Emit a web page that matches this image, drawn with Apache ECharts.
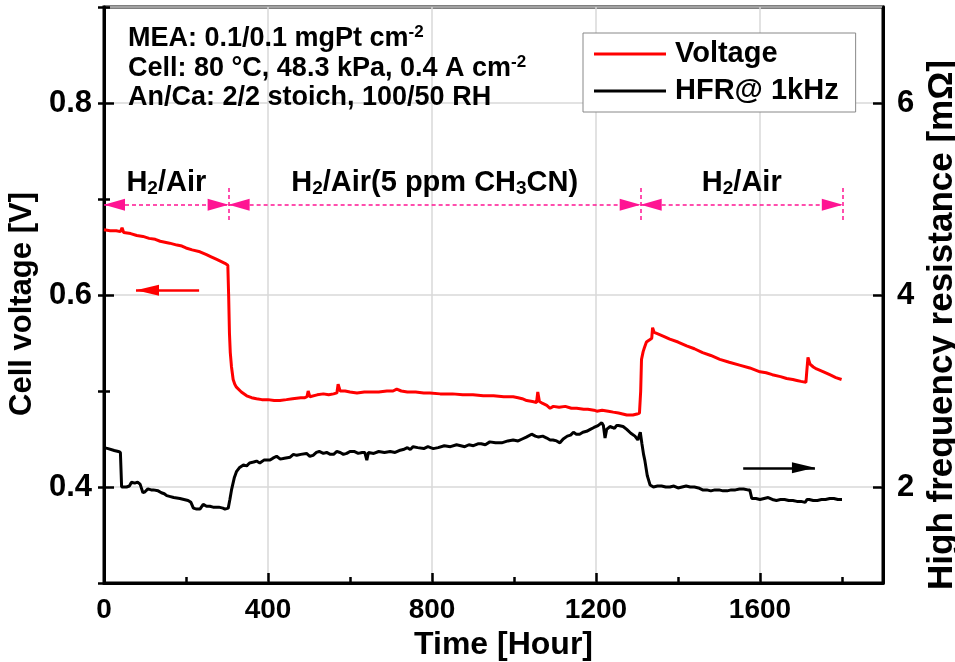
<!DOCTYPE html>
<html>
<head>
<meta charset="utf-8">
<script src="https://cdn.jsdelivr.net/npm/echarts@6/dist/echarts.min.js"></script>
<style>
  html, body { margin: 0; padding: 0; background: #fff; }
  #chart { width: 955px; height: 662px; }
</style>
</head>
<body>
<div id="chart"></div>
<script>
// Cell voltage [V] against time [h]
const voltageData = [
  [0, 0.668], [15, 0.667], [30, 0.667], [40, 0.666], [44, 0.670], [48, 0.665], [65, 0.664],
  [80, 0.662], [95, 0.661], [110, 0.659], [125, 0.658], [137, 0.656], [140, 0.657], [160, 0.654],
  [178, 0.652], [190, 0.651], [200, 0.649], [215, 0.647], [234, 0.645], [250, 0.642], [260, 0.640],
  [275, 0.637], [285, 0.635], [295, 0.633], [302, 0.631], [304, 0.600], [306, 0.560], [308, 0.540],
  [311, 0.525], [315, 0.512], [319, 0.507], [323, 0.504], [335, 0.499], [348, 0.495], [360, 0.493],
  [372, 0.492], [385, 0.491], [400, 0.491], [415, 0.490], [429, 0.490], [445, 0.491], [460, 0.492],
  [480, 0.493], [490, 0.493], [495, 0.494], [498, 0.500], [502, 0.494], [520, 0.496], [535, 0.497],
  [548, 0.496], [560, 0.497], [568, 0.498], [571, 0.507], [576, 0.500], [588, 0.500], [600, 0.499],
  [617, 0.498], [635, 0.499], [650, 0.499], [670, 0.499], [690, 0.500], [705, 0.500], [714, 0.502],
  [725, 0.500], [740, 0.499], [760, 0.499], [780, 0.498], [795, 0.498], [820, 0.497], [850, 0.497],
  [875, 0.496], [900, 0.496], [925, 0.495], [950, 0.495], [975, 0.494], [998, 0.494], [1010, 0.493],
  [1020, 0.492], [1031, 0.490], [1045, 0.489], [1055, 0.488], [1058, 0.499], [1062, 0.489],
  [1070, 0.487], [1080, 0.485], [1088, 0.482], [1096, 0.484], [1110, 0.483], [1125, 0.484],
  [1140, 0.482], [1153, 0.482], [1170, 0.481], [1180, 0.481], [1195, 0.480], [1202, 0.479],
  [1215, 0.480], [1230, 0.479], [1242, 0.478], [1255, 0.477], [1265, 0.476], [1275, 0.475],
  [1290, 0.475], [1300, 0.476], [1306, 0.477], [1309, 0.500], [1311, 0.533], [1315, 0.541],
  [1318, 0.545], [1323, 0.551], [1330, 0.553], [1336, 0.555], [1338, 0.566], [1342, 0.561],
  [1348, 0.560], [1365, 0.557], [1380, 0.554], [1400, 0.551], [1421, 0.547], [1440, 0.544],
  [1460, 0.540], [1480, 0.537], [1502, 0.533], [1525, 0.530], [1550, 0.527], [1575, 0.524],
  [1600, 0.520], [1615, 0.519], [1630, 0.517], [1650, 0.515], [1665, 0.513], [1680, 0.512],
  [1690, 0.511], [1700, 0.510], [1712, 0.509], [1714, 0.520], [1717, 0.535], [1722, 0.528],
  [1730, 0.525], [1738, 0.523], [1755, 0.520], [1770, 0.517], [1785, 0.514], [1799, 0.512]
];

// High frequency resistance at 1 kHz [mOhm] against time [h]
const hfrData = [
  [0, 2.41], [10, 2.40], [25, 2.38], [35, 2.37], [40, 2.36], [43, 2.00], [55, 2.00], [62, 2.01],
  [67, 2.05], [75, 2.04], [82, 2.05], [88, 2.03], [92, 2.02], [95, 1.94], [100, 1.95], [107, 1.98],
  [115, 1.97], [120, 1.97], [132, 1.96], [140, 1.94], [147, 1.93], [153, 1.91], [162, 1.90],
  [170, 1.89], [185, 1.88], [195, 1.87], [205, 1.86], [212, 1.84], [218, 1.78], [226, 1.77],
  [234, 1.77], [242, 1.82], [250, 1.80], [258, 1.80], [266, 1.79], [280, 1.79], [290, 1.78],
  [295, 1.77], [303, 1.78], [307, 1.87], [311, 1.97], [318, 2.10], [323, 2.16], [330, 2.20],
  [340, 2.23], [348, 2.22], [355, 2.25], [365, 2.26], [372, 2.27], [380, 2.25], [390, 2.28],
  [405, 2.28], [412, 2.30], [421, 2.32], [430, 2.29], [440, 2.30], [454, 2.31], [462, 2.34],
  [470, 2.33], [480, 2.34], [494, 2.35], [502, 2.32], [510, 2.33], [518, 2.36], [525, 2.37],
  [535, 2.35], [543, 2.36], [552, 2.34], [560, 2.34], [568, 2.37], [576, 2.36], [584, 2.34],
  [592, 2.35], [600, 2.37], [610, 2.37], [620, 2.35], [630, 2.36], [636, 2.36], [641, 2.28],
  [645, 2.36], [658, 2.35], [670, 2.37], [684, 2.36], [698, 2.37], [710, 2.36], [720, 2.38],
  [730, 2.39], [740, 2.41], [747, 2.39], [754, 2.42], [765, 2.41], [780, 2.40], [790, 2.42],
  [803, 2.40], [815, 2.41], [830, 2.43], [845, 2.42], [860, 2.44], [870, 2.43], [880, 2.42],
  [890, 2.44], [901, 2.43], [912, 2.45], [920, 2.45], [930, 2.44], [941, 2.47], [955, 2.46],
  [970, 2.46], [985, 2.48], [998, 2.49], [1010, 2.48], [1020, 2.50], [1030, 2.52], [1043, 2.55],
  [1052, 2.53], [1060, 2.52], [1070, 2.53], [1080, 2.51], [1088, 2.49], [1095, 2.49],
  [1104, 2.48], [1112, 2.46], [1120, 2.50], [1130, 2.53], [1138, 2.54], [1145, 2.57],
  [1152, 2.55], [1160, 2.55], [1168, 2.57], [1177, 2.58], [1186, 2.60], [1195, 2.62],
  [1205, 2.64], [1214, 2.67], [1218, 2.64], [1222, 2.51], [1226, 2.60], [1234, 2.63],
  [1240, 2.62], [1245, 2.61], [1250, 2.64], [1255, 2.64], [1266, 2.63], [1275, 2.60],
  [1285, 2.56], [1295, 2.53], [1302, 2.49], [1308, 2.57], [1312, 2.45], [1316, 2.34],
  [1319, 2.28], [1325, 2.12], [1332, 2.02], [1340, 2.00], [1350, 2.01], [1360, 2.01],
  [1370, 2.00], [1380, 2.00], [1390, 2.01], [1400, 1.99], [1410, 2.00], [1420, 2.01],
  [1430, 2.00], [1440, 2.00], [1450, 1.99], [1460, 1.97], [1470, 1.97], [1480, 1.96],
  [1490, 1.97], [1500, 1.97], [1510, 1.96], [1520, 1.96], [1530, 1.97], [1540, 1.97],
  [1550, 1.98], [1560, 1.98], [1570, 1.97], [1575, 1.97], [1580, 1.88], [1590, 1.88],
  [1600, 1.87], [1610, 1.88], [1620, 1.89], [1630, 1.87], [1640, 1.86], [1650, 1.87],
  [1660, 1.87], [1670, 1.86], [1680, 1.86], [1690, 1.85], [1700, 1.85], [1710, 1.84],
  [1715, 1.87], [1720, 1.87], [1730, 1.86], [1740, 1.86], [1750, 1.87], [1760, 1.87],
  [1770, 1.88], [1780, 1.88], [1790, 1.87], [1800, 1.87]
];

// Test phases along the time axis [h]
const phaseBounds = [0, 304, 1309, 1802];
const phaseNames = ['{t|H}{s|2}{t|/Air}', '{t|H}{s|2}{t|/Air(5 ppm CH}{s|3}{t|CN)}', '{t|H}{s|2}{t|/Air}'];
const phaseLevel = 0.694;      // voltage level of the phase bar
const phaseTick = [0.678, 0.712];

// Axis arrows: which curve belongs to which axis
const voltageArrow = { from: [232, 0.605], to: [78, 0.605] };
const hfrArrow = { from: [1559, 2.2], to: [1734, 2.2] };

// Operating conditions
const conditionLines = [
  '{a|MEA: 0.1/0.1 mgPt cm}{p|-2}',
  '{a|Cell: 80 °C, 48.3 kPa, 0.4 A cm}{p|-2}',
  '{a|An/Ca: 2/2 stoich, 100/50 RH}'
];

const PINK = '#ff1493';
const FONT = "'Liberation Sans', Arial, sans-serif";

const chart = echarts.init(document.getElementById('chart'), null, { renderer: 'canvas' });

const phaseRich = {
  t: { fontFamily: FONT, fontWeight: 'bold', fontSize: 29, color: '#000', lineHeight: 32, verticalAlign: 'middle' },
  s: { fontFamily: FONT, fontWeight: 'bold', fontSize: 19, color: '#000', lineHeight: 19, verticalAlign: 'bottom' }
};

const phaseSegments = phaseNames.map((name, i) => [
  {
    coord: [phaseBounds[i], phaseLevel],
    label: {
      show: true, position: 'insideMiddleTop', distance: 6,
      formatter: name, rich: phaseRich
    }
  },
  { coord: [phaseBounds[i + 1], phaseLevel] }
]);

const phaseTicks = phaseBounds.slice(1).map(h => [
  { coord: [h, phaseTick[0]] }, { coord: [h, phaseTick[1]] }
]);

const conditionGraphics = conditionLines.map((txt, i) => ({
  type: 'text',
  left: 128,
  top: 24 + i * 30,
  style: {
    text: txt,
    rich: {
      a: { fontFamily: FONT, fontWeight: 'bold', fontSize: 27, fill: '#000', lineHeight: 30, verticalAlign: 'middle' },
      p: { fontFamily: FONT, fontWeight: 'bold', fontSize: 17, fill: '#000', lineHeight: 17, verticalAlign: 'top' }
    }
  },
  z: 100
}));

const axisLineStyle = { color: '#000', width: 3 };
const majorTick = { show: true, inside: true, length: 10, lineStyle: { color: '#000', width: 2.5 } };
const minorTick = { show: true, inside: true, length: 6, lineStyle: { color: '#000', width: 2.5 } };
const gridLine = { show: true, lineStyle: { color: '#d8d8d8', width: 1.5 } };

const option = {
  animation: false,
  backgroundColor: '#fff',
  grid: {
    left: 104, right: 72, top: 7, bottom: 79,
    outerBoundsMode: 'none', containLabel: false,
    show: true, borderColor: '#000', borderWidth: 3, backgroundColor: 'transparent'
  },
  legend: {
    data: ['Voltage', 'HFR@ 1kHz'],
    orient: 'vertical',
    left: 583, top: 33,
    padding: [6, 17, 6, 11],
    itemGap: 7,
    icon: 'rect',
    itemWidth: 72,
    itemHeight: 3,
    backgroundColor: '#fff',
    borderColor: '#888',
    borderWidth: 1,
    borderRadius: 0,
    textStyle: { fontFamily: FONT, fontWeight: 'bold', fontSize: 29, lineHeight: 30, color: '#000', padding: [0, 0, 0, 4] }
  },
  xAxis: [
    {
      type: 'value', min: 0, max: 1900, interval: 400,
      name: 'Time [Hour]', nameLocation: 'middle', nameGap: 46,
      nameTextStyle: { fontFamily: FONT, fontWeight: 'bold', fontSize: 32, color: '#000', padding: [0, 0, 0, 20] },
      axisLine: { show: true, onZero: false, lineStyle: axisLineStyle },
      axisTick: majorTick,
      axisLabel: {
        showMaxLabel: false, margin: 13, fontFamily: FONT, fontWeight: 'bold', fontSize: 28, color: '#000',
        formatter: v => String(v)
      },
      splitLine: gridLine
    },
    {
      // 200 h minor ticks
      type: 'value', min: 0, max: 1900, interval: 200, position: 'bottom',
      axisLine: { show: false }, axisTick: minorTick,
      axisLabel: { show: false }, splitLine: { show: false }
    }
  ],
  yAxis: [
    {
      type: 'value', min: 0.3, max: 0.9, minInterval: 0.2, maxInterval: 0.2, position: 'left',
      name: 'Cell voltage [V]', nameLocation: 'middle', nameGap: 64,
      nameTextStyle: { fontFamily: FONT, fontWeight: 'bold', fontSize: 31, color: '#000', padding: [0, 18, 0, 0] },
      axisLine: { show: true, onZero: false, lineStyle: axisLineStyle },
      axisTick: majorTick,
      axisLabel: {
        showMinLabel: false, showMaxLabel: false, margin: 12,
        fontFamily: FONT, fontWeight: 'bold', fontSize: 31, color: '#000',
        formatter: v => v.toFixed(1)
      },
      splitLine: gridLine
    },
    {
      type: 'value', min: 1, max: 7, minInterval: 2, maxInterval: 2, position: 'right',
      name: 'High frequency resistance [mΩ]', nameLocation: 'middle', nameGap: 40,
      nameRotate: 90,
      nameTextStyle: { fontFamily: FONT, fontWeight: 'bold', fontSize: 35, color: '#000', padding: [0, 60, 0, 0] },
      axisLine: { show: true, onZero: false, lineStyle: axisLineStyle },
      axisTick: majorTick,
      axisLabel: {
        showMinLabel: false, showMaxLabel: false, margin: 14,
        fontFamily: FONT, fontWeight: 'bold', fontSize: 31, color: '#000'
      },
      splitLine: { show: false }
    },
    {
      // 0.1 V minor ticks
      type: 'value', min: 0.3, max: 0.9, interval: 0.1, position: 'left',
      axisLine: { show: false }, axisTick: minorTick,
      axisLabel: { show: false }, splitLine: { show: false }
    },
    {
      // 1 mOhm minor ticks
      type: 'value', min: 1, max: 7, interval: 1, position: 'right',
      axisLine: { show: false }, axisTick: minorTick,
      axisLabel: { show: false }, splitLine: { show: false }
    }
  ],
  series: [
    {
      name: 'Voltage', type: 'line', xAxisIndex: 0, yAxisIndex: 0,
      data: voltageData, showSymbol: false, symbol: 'none',
      lineStyle: { color: '#ff0000', width: 3 }, itemStyle: { color: '#ff0000' },
      z: 5,
      markLine: {
        silent: true, animation: false,
        symbol: ['none', 'triangle'], symbolSize: [11, 23], symbolOffset: [[0, 0], [0, 11.5]],
        lineStyle: { color: '#ff0000', width: 2.5, type: 'solid' },
        label: { show: false },
        data: [[{ coord: voltageArrow.from }, { coord: voltageArrow.to }]]
      }
    },
    {
      name: 'HFR@ 1kHz', type: 'line', xAxisIndex: 0, yAxisIndex: 1,
      data: hfrData, showSymbol: false, symbol: 'none',
      lineStyle: { color: '#000', width: 3 }, itemStyle: { color: '#000' },
      z: 5,
      markLine: {
        silent: true, animation: false,
        symbol: ['none', 'triangle'], symbolSize: [11, 23], symbolOffset: [[0, 0], [0, 11.5]],
        lineStyle: { color: '#000', width: 2.5, type: 'solid' },
        label: { show: false },
        data: [[{ coord: hfrArrow.from }, { coord: hfrArrow.to }]]
      }
    },
    {
      name: 'phases', type: 'line', xAxisIndex: 0, yAxisIndex: 0, data: [],
      markLine: {
        silent: true, animation: false,
        symbol: ['triangle', 'triangle'], symbolSize: [12, 21], symbolOffset: [[0, 10.5], [0, 10.5]],
        lineStyle: { color: PINK, width: 1.5, type: [4, 3] },
        data: phaseSegments
      }
    },
    {
      name: 'phaseTicks', type: 'line', xAxisIndex: 0, yAxisIndex: 0, data: [],
      markLine: {
        silent: true, animation: false,
        symbol: ['none', 'none'],
        lineStyle: { color: PINK, width: 1.5, type: [4, 3] },
        label: { show: false },
        data: phaseTicks
      }
    }
  ],
  graphic: conditionGraphics
};

chart.setOption(option);
</script>
</body>
</html>
